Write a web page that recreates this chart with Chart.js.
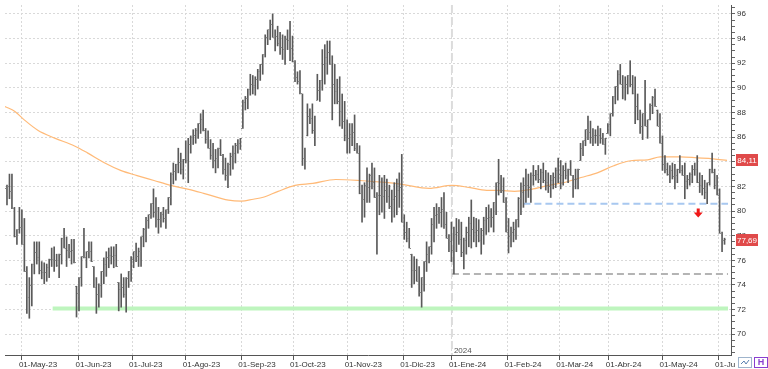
<!DOCTYPE html>
<html>
<head>
<meta charset="utf-8">
<title>Brent - daily bars</title>
<script src="https://cdn.jsdelivr.net/npm/chart.js@4.4.1/dist/chart.umd.min.js"></script>
<style>
    html, body { margin: 0; padding: 0; background: #fff; }
    #wrap { width: 768px; height: 369px; }
</style>
</head>
<body>
<div id="wrap"><canvas id="chart" width="768" height="369"></canvas></div>
<script>
// ===========================
// DATA (one entry per trading day, index 0 = 21-Apr-23)
// ===========================
const opens = [
    81.8, 82.0, 81.6, 80.2, 77.9, 78.5, 78.7, 77.3, 75.1, 73.0,
    74.0, 75.7, 76.6, 76.2, 75.2, 75.0, 75.0, 75.4, 76.1, 76.1,
    76.0, 75.6, 76.5, 77.8, 77.0, 76.8, 76.7, 76.8, 73.9, 73.3,
    74.6, 76.3, 76.2, 76.7, 76.7, 75.5, 73.8, 73.2, 74.0, 75.1,
    75.7, 76.2, 76.4, 76.3, 76.4, 74.2, 73.6, 73.8, 73.2, 74.5,
    75.1, 76.1, 76.7, 76.3, 76.7, 77.9, 78.5, 79.2, 79.7, 80.6,
    79.9, 79.3, 79.3, 79.7, 79.4, 80.1, 81.1, 83.0, 83.2, 83.8,
    83.9, 83.4, 84.2, 84.1, 85.4, 86.0, 86.1, 86.5, 87.1, 87.4,
    86.5, 85.8, 85.1, 84.5, 84.1, 84.3, 85.1, 84.5, 83.4, 82.9,
    83.8, 84.4, 84.7, 85.3, 85.5, 86.7, 88.8, 89.1, 89.9, 90.3,
    90.2, 90.7, 91.3, 91.9, 92.7, 94.1, 94.7, 95.1, 94.1, 94.2,
    93.6, 93.3, 93.1, 93.9, 93.8, 93.2, 92.1, 90.8, 90.5, 89.5,
    84.3, 86.1, 87.7, 87.5, 86.5, 89.0, 89.8, 90.6, 91.9, 92.5,
    92.9, 91.9, 90.3, 89.7, 88.9, 88.1, 87.3, 86.1, 85.9, 86.2,
    86.4, 85.1, 84.7, 81.4, 80.9, 82.1, 81.9, 82.9, 82.3, 81.1,
    81.3, 81.3, 81.2, 81.7, 81.2, 80.4, 80.9, 81.2, 81.7, 81.9,
    79.1, 78.3, 77.8, 76.5, 75.2, 75.2, 74.3, 73.4, 74.6, 75.9,
    76.5, 77.1, 78.9, 79.6, 79.7, 79.9, 80.1, 78.9, 77.8, 77.5,
    76.8, 78.1, 78.3, 77.7, 76.6, 77.6, 78.3, 79.0, 78.5, 78.3,
    78.4, 77.6, 78.4, 79.2, 79.4, 79.5, 79.5, 80.7, 82.3, 82.2,
    81.7, 80.7, 78.3, 77.9, 78.3, 78.5, 79.3, 81.0, 81.5, 82.1,
    82.1, 81.9, 82.9, 82.9, 83.0, 82.6, 83.1, 82.5, 82.3, 82.0,
    82.5, 82.7, 83.3, 83.0, 82.9, 83.3, 82.9, 83.4, 82.9, 82.6,
    82.6, 84.1, 85.1, 85.7, 86.6, 86.4, 86.0, 86.1, 86.1, 86.1,
    85.9, 85.4, 86.3, 87.0, 87.9, 89.3, 90.1, 91.1, 90.3, 90.0,
    90.3, 91.0, 90.3, 89.5, 88.5, 87.4, 86.9, 87.9, 86.9, 87.4,
    88.6, 89.2, 88.2, 86.9, 85.5, 83.8, 83.4, 83.0, 83.3, 82.8,
    82.9, 83.4, 83.3, 82.9, 82.4, 82.6, 83.0, 83.4, 83.4, 82.3,
    82.1, 81.8, 81.5, 82.3, 83.4, 83.1, 82.1, 81.3, 78.2, 77.6
];
const highs = [
    82.1, 83.0, 83.0, 80.3, 78.5, 80.3, 80.1, 79.4, 75.5, 74.6,
    75.7, 77.5, 77.5, 77.5, 75.9, 75.8, 75.7, 76.1, 77.0, 77.1,
    76.5, 76.5, 77.8, 78.6, 77.9, 77.3, 77.7, 77.7, 73.9, 74.6,
    76.3, 78.6, 76.7, 77.5, 77.5, 75.5, 74.6, 74.1, 75.1, 76.2,
    76.7, 77.0, 77.1, 77.1, 77.3, 74.2, 74.9, 74.6, 74.6, 75.1,
    76.3, 76.7, 77.4, 77.0, 77.9, 78.6, 79.5, 79.7, 80.6, 81.8,
    81.1, 80.3, 79.9, 80.3, 80.1, 81.1, 83.1, 83.9, 83.8, 85.1,
    84.7, 84.2, 85.7, 85.9, 86.1, 86.6, 86.7, 87.1, 87.9, 88.2,
    86.7, 86.5, 85.8, 85.5, 85.0, 85.1, 85.8, 84.6, 84.3, 83.9,
    84.7, 85.3, 85.5, 85.8, 85.9, 89.0, 89.3, 89.9, 91.1, 91.0,
    90.9, 91.5, 91.9, 92.7, 94.3, 94.7, 95.5, 96.0, 94.7, 95.0,
    94.5, 94.3, 94.2, 94.7, 95.4, 94.2, 92.2, 91.3, 91.4, 89.5,
    85.1, 88.7, 88.3, 88.7, 87.7, 91.1, 90.6, 93.1, 93.5, 93.8,
    93.8, 92.6, 91.9, 90.7, 90.9, 89.5, 88.9, 87.4, 87.1, 87.1,
    87.8, 85.5, 85.3, 82.1, 82.3, 83.5, 83.0, 83.9, 83.5, 81.5,
    82.9, 82.7, 82.9, 82.6, 82.1, 81.7, 82.3, 82.6, 83.1, 84.6,
    79.7, 79.1, 78.6, 76.5, 76.3, 76.1, 75.5, 74.6, 75.9, 77.5,
    77.1, 79.4, 80.3, 80.6, 80.3, 81.1, 81.5, 79.9, 78.1, 79.1,
    78.7, 79.4, 79.3, 79.1, 77.8, 78.7, 79.5, 80.9, 79.5, 79.4,
    79.3, 78.6, 79.5, 80.3, 80.5, 80.2, 80.7, 82.3, 84.2, 82.9,
    82.7, 81.1, 79.4, 78.7, 79.1, 79.3, 81.1, 82.3, 82.7, 83.4,
    83.0, 83.1, 83.7, 83.3, 83.7, 83.4, 83.9, 83.3, 83.1, 82.9,
    83.1, 83.5, 84.3, 84.1, 83.7, 83.9, 83.4, 84.1, 82.9, 83.4,
    83.4, 85.5, 85.7, 86.6, 87.7, 87.3, 86.7, 86.6, 86.9, 86.7,
    86.3, 85.9, 87.1, 87.9, 89.3, 90.1, 91.4, 91.9, 91.0, 90.9,
    91.0, 92.2, 91.0, 90.9, 89.5, 88.2, 87.9, 90.6, 87.4, 88.7,
    89.3, 89.9, 88.2, 87.9, 86.1, 84.5, 83.9, 83.7, 83.9, 83.8,
    83.4, 84.5, 83.7, 83.9, 82.9, 83.1, 83.7, 83.9, 84.5, 83.1,
    82.9, 82.5, 82.3, 83.4, 84.7, 83.4, 82.9, 81.8, 78.3, 77.8
];
const lows = [
    80.5, 81.0, 80.2, 77.9, 77.3, 78.2, 77.3, 75.1, 71.7, 71.3,
    72.3, 74.9, 75.7, 74.9, 74.5, 74.1, 74.3, 74.6, 75.5, 75.1,
    75.5, 74.6, 75.7, 77.0, 75.5, 76.2, 75.7, 75.8, 71.4, 71.9,
    73.9, 76.2, 75.4, 76.2, 75.9, 73.8, 71.7, 72.2, 73.0, 74.1,
    74.7, 75.4, 75.7, 75.4, 75.5, 71.9, 72.2, 73.0, 71.8, 73.8,
    74.3, 75.4, 75.9, 75.5, 75.5, 77.1, 77.5, 78.6, 79.4, 79.5,
    78.7, 78.2, 78.7, 79.1, 78.6, 79.8, 80.5, 82.2, 82.5, 83.1,
    83.0, 82.6, 83.9, 82.3, 84.7, 85.4, 85.5, 85.9, 86.3, 86.5,
    85.5, 85.1, 84.2, 83.5, 83.1, 83.5, 84.5, 83.0, 82.5, 81.9,
    82.9, 83.4, 83.9, 84.7, 85.0, 86.7, 88.2, 88.3, 89.4, 89.5,
    89.4, 89.9, 90.6, 91.1, 92.5, 93.5, 93.9, 94.1, 93.0, 93.4,
    92.7, 92.3, 91.9, 93.1, 92.2, 92.1, 90.5, 90.3, 89.5, 83.7,
    83.4, 86.1, 87.1, 86.3, 85.3, 89.0, 88.9, 89.8, 90.3, 91.1,
    91.9, 87.4, 88.7, 88.7, 86.9, 86.7, 85.7, 84.7, 84.7, 85.3,
    84.9, 84.7, 81.4, 79.1, 79.5, 80.7, 80.7, 81.8, 81.1, 76.5,
    79.7, 79.9, 79.4, 80.7, 80.2, 79.1, 79.5, 79.7, 80.3, 79.1,
    77.7, 77.5, 77.0, 73.8, 74.1, 74.3, 73.1, 72.2, 73.5, 75.1,
    75.8, 76.5, 77.5, 78.6, 79.0, 78.7, 78.6, 77.8, 76.7, 75.9,
    74.9, 76.7, 77.3, 76.3, 75.3, 76.5, 77.1, 77.0, 77.5, 77.1,
    77.5, 76.5, 77.3, 78.1, 78.3, 78.7, 78.3, 79.7, 81.3, 81.5,
    80.7, 78.3, 76.6, 77.1, 77.5, 77.7, 78.7, 79.7, 80.3, 80.7,
    81.1, 80.7, 82.1, 82.5, 82.3, 81.8, 82.3, 81.7, 81.5, 81.1,
    81.8, 81.9, 82.3, 81.8, 82.1, 82.6, 82.3, 82.9, 81.1, 81.8,
    81.8, 84.1, 84.5, 85.3, 85.8, 85.5, 85.3, 85.5, 85.3, 85.5,
    85.4, 84.6, 86.3, 86.1, 87.7, 88.7, 89.0, 90.3, 89.1, 89.0,
    89.5, 90.1, 89.5, 87.1, 87.4, 86.3, 85.8, 86.9, 85.9, 87.4,
    87.9, 88.5, 86.9, 85.5, 83.3, 83.1, 82.9, 82.3, 82.6, 81.8,
    82.3, 83.1, 82.9, 81.0, 81.8, 82.1, 82.3, 82.9, 82.3, 81.5,
    81.3, 81.0, 80.6, 82.1, 83.1, 81.8, 81.3, 78.2, 76.7, 77.3
];
const closes = [
    82.0, 81.6, 80.2, 77.9, 78.5, 78.7, 77.3, 75.1, 73.0, 74.0,
    75.7, 76.6, 76.2, 75.2, 75.0, 75.0, 75.4, 76.1, 76.1, 76.0,
    75.6, 76.5, 77.8, 77.0, 76.8, 76.7, 76.8, 75.8, 73.3, 74.6,
    76.3, 76.2, 76.7, 76.7, 75.9, 73.8, 73.2, 74.0, 75.1, 75.7,
    76.2, 76.4, 76.3, 76.4, 75.5, 73.6, 73.8, 73.2, 74.5, 75.1,
    76.1, 76.7, 76.3, 76.7, 77.9, 78.5, 79.2, 79.7, 80.6, 79.9,
    79.3, 79.3, 79.7, 79.4, 80.1, 81.1, 83.0, 83.2, 83.8, 83.9,
    83.4, 84.2, 84.1, 85.4, 86.0, 86.1, 86.5, 87.1, 87.4, 86.5,
    85.8, 85.1, 84.5, 84.1, 84.3, 85.1, 84.5, 83.4, 82.9, 83.8,
    84.4, 84.7, 85.3, 85.5, 85.9, 88.8, 89.1, 89.9, 90.3, 90.2,
    90.7, 91.3, 91.9, 92.7, 94.1, 94.7, 95.1, 94.1, 94.2, 93.6,
    93.3, 93.1, 93.9, 93.8, 93.2, 92.1, 90.8, 90.5, 89.5, 84.3,
    85.1, 87.7, 87.5, 86.5, 87.7, 89.8, 90.6, 91.9, 92.5, 92.9,
    91.9, 90.3, 89.7, 88.9, 88.1, 87.3, 86.1, 85.9, 86.2, 86.4,
    85.1, 84.7, 81.4, 80.9, 82.1, 81.9, 82.9, 82.3, 81.1, 81.3,
    81.3, 81.2, 81.7, 81.2, 80.4, 80.9, 81.2, 81.7, 81.9, 79.1,
    78.3, 77.8, 77.0, 75.2, 75.2, 74.3, 73.4, 74.6, 75.9, 76.5,
    77.1, 78.9, 79.6, 79.7, 79.9, 80.1, 78.9, 77.8, 77.5, 76.8,
    78.1, 78.3, 77.7, 76.6, 77.6, 78.3, 79.0, 78.5, 78.3, 78.4,
    77.6, 78.4, 79.2, 79.4, 79.5, 79.5, 80.7, 82.3, 82.2, 81.7,
    80.7, 78.3, 77.9, 78.3, 78.5, 79.3, 81.0, 81.5, 82.1, 82.1,
    81.9, 82.9, 82.9, 83.0, 82.6, 83.1, 82.5, 82.3, 82.0, 82.5,
    82.7, 83.3, 83.0, 82.9, 83.3, 82.9, 83.4, 82.9, 82.6, 82.6,
    83.4, 85.1, 85.7, 86.6, 86.4, 86.0, 86.1, 86.1, 86.1, 85.9,
    85.4, 85.9, 87.0, 87.9, 89.3, 90.1, 91.1, 90.3, 90.0, 90.3,
    91.0, 90.3, 89.5, 88.5, 87.4, 86.9, 87.9, 86.9, 87.4, 88.6,
    89.2, 88.5, 86.9, 85.5, 83.8, 83.4, 83.0, 83.3, 82.8, 82.9,
    83.4, 83.3, 82.9, 82.4, 82.6, 83.0, 83.4, 83.4, 82.3, 82.1,
    81.8, 81.5, 82.3, 83.4, 83.1, 82.1, 81.3, 78.2, 77.6, 77.69
];

// Moving average (orange), read at a few bar positions
const maIdx = [-0.8, 3.2, 7.2, 12.4, 19.2, 27.2, 32.4, 39.2, 46, 52.4, 59.2, 66, 73.2, 79.2,
    89.2, 94.4, 99.2, 103.2, 109.2, 116, 123.2, 132.4, 142, 152.4, 159.2, 170, 179.2, 186,
    193.2, 198, 204.4, 211.2, 218, 224.4, 231.2, 238, 244.4, 251.2, 258, 263.2, 271.2, 278,
    284.4, 290];
const maVal = [88.48, 88.08, 87.36, 86.56, 85.92, 85.28, 84.72, 83.92, 83.28, 82.88, 82.48, 82.08, 81.76, 81.44,
    80.88, 80.8, 80.96, 81.12, 81.6, 82.08, 82.24, 82.56, 82.48, 82.32, 82.16, 81.84, 82.08, 81.92,
    81.68, 81.68, 81.6, 81.76, 82.08, 82.32, 82.72, 83.12, 83.68, 84.08, 84.16, 84.4, 84.4, 84.32,
    84.24, 84.11];

// x axis: first trading day of each month (bar index) and its label
const monthTicks = [6, 28.8, 50.4, 72, 94.4, 115.2, 137.2, 159.6, 179.2, 201.6, 222.4, 242.4, 264, 286.4];
const monthLabels = ['01-May-23', '01-Jun-23', '01-Jul-23', '01-Ago-23', '01-Sep-23', '01-Oct-23', '01-Nov-23',
    '01-Dic-23', '01-Ene-24', '01-Feb-24', '01-Mar-24', '01-Abr-24', '01-May-24', '01-Jun-24'];

// Horizontal levels: [start index, price]
const greenLevel = [18.4, 72.1];
const greyLevel = [179.2, 74.9];
const blueLevel = [208, 80.6];
const levelEnd = 290.4;

// Markers
const yearIdx = 179.2;
const yearLabel = '2024';
const arrowIdx = 278.4;
const arrowVal = 79.8;
const maTag = '84,11';
const lastTag = '77,69';

// Axis ranges
const xMin = -0.8, xMax = 291.6;
const yMin = 68.32, yMax = 96.72;

// ===========================
// STYLE
// ===========================
const barColor = '#5a5a5a';
const tickColor = '#8a8a8a';
const axisFont = { family: 'Liberation Sans', size: 8 };

// Small open/close tick images used as point styles
function tickMark(side) {
    const c = document.createElement('canvas');
    c.width = 3;
    c.height = 1;
    const g = c.getContext('2d');
    g.fillStyle = tickColor;
    g.fillRect(side === 'left' ? 0 : 2, 0, 1, 1);
    return c;
}

function levelLine(level) {
    return [{ x: level[0], y: level[1] }, { x: levelEnd, y: level[1] }];
}

function priceTag(ctx, chart, value, text) {
    const y = chart.scales.y.getPixelForValue(value);
    const x = chart.chartArea.right + 5;
    ctx.fillStyle = '#e04a4a';
    ctx.fillRect(x, Math.round(y) - 6, 22, 12);
    ctx.fillStyle = '#ffffff';
    ctx.font = '8px "Liberation Sans"';
    ctx.textAlign = 'center';
    ctx.textBaseline = 'middle';
    ctx.fillText(text, x + 11, Math.round(y) + 0.5);
}

// Extra drawing: background, year separator, arrow, price tags, corner icons
const overlay = {
    id: 'overlay',
    beforeDraw(chart) {
        const { ctx, width, height } = chart;
        ctx.save();
        ctx.fillStyle = '#ffffff';
        ctx.fillRect(0, 0, width, height);
        ctx.restore();
    },
    beforeDatasetsDraw(chart) {
        const { ctx, chartArea, scales } = chart;
        const px = scales.x.getPixelForValue(yearIdx);
        ctx.save();
        ctx.strokeStyle = '#dcdcdc';
        ctx.lineWidth = 2;
        ctx.setLineDash([8, 4]);
        ctx.beginPath();
        ctx.moveTo(px, chartArea.top);
        ctx.lineTo(px, chartArea.bottom);
        ctx.stroke();
        ctx.setLineDash([]);
        ctx.fillStyle = '#555';
        ctx.font = '8px "Liberation Sans"';
        ctx.fillText(yearLabel, px + 2, chartArea.bottom - 2);
        ctx.restore();
    },
    afterDraw(chart) {
        const { ctx, scales } = chart;
        const ax = scales.x.getPixelForValue(arrowIdx);
        const ay = scales.y.getPixelForValue(arrowVal);
        ctx.save();
        ctx.fillStyle = '#f01818';
        ctx.beginPath();
        ctx.moveTo(ax - 1.5, ay - 5);
        ctx.lineTo(ax + 1.5, ay - 5);
        ctx.lineTo(ax + 1.5, ay - 1);
        ctx.lineTo(ax + 4.5, ay - 1);
        ctx.lineTo(ax, ay + 4);
        ctx.lineTo(ax - 4.5, ay - 1);
        ctx.lineTo(ax - 1.5, ay - 1);
        ctx.closePath();
        ctx.fill();

        priceTag(ctx, chart, maVal[maVal.length - 1], maTag);
        priceTag(ctx, chart, closes[closes.length - 1], lastTag);

        // corner buttons
        ctx.fillStyle = '#ffffff';
        ctx.fillRect(735, 356, 33, 13);
        ctx.strokeStyle = '#9fb4cc';
        ctx.lineWidth = 1;
        ctx.strokeRect(738.5, 357.5, 13, 10);
        ctx.strokeStyle = '#5a7fb0';
        ctx.beginPath();
        ctx.moveTo(741, 364); ctx.lineTo(744, 361); ctx.lineTo(746, 364); ctx.lineTo(749, 360);
        ctx.stroke();
        ctx.strokeStyle = '#8a3fd0';
        ctx.strokeRect(754.5, 357.5, 13, 10);
        ctx.fillStyle = '#8a3fd0';
        ctx.font = 'bold 9px "Liberation Sans"';
        ctx.textAlign = 'center';
        ctx.textBaseline = 'middle';
        ctx.fillText('H', 761, 363);
        ctx.restore();
    }
};

// ===========================
// CHART
// ===========================
const barData = highs.map((h, i) => ({ x: i, y: [lows[i], h] }));
const openData = opens.map((v, i) => ({ x: i, y: v }));
const closeData = closes.map((v, i) => ({ x: i, y: v }));
const maData = maIdx.map((v, i) => ({ x: v, y: maVal[i] }));

new Chart(document.getElementById('chart'), {
    type: 'bar',
    data: {
        datasets: [
            {
                type: 'bar',
                data: barData,
                backgroundColor: barColor,
                borderWidth: 0,
                barThickness: 1,
                grouped: false,
                order: 1
            },
            {
                type: 'scatter',
                data: openData,
                pointStyle: tickMark('left'),
                pointRadius: 1,
                order: 0
            },
            {
                type: 'scatter',
                data: closeData,
                pointStyle: tickMark('right'),
                pointRadius: 1,
                order: 0
            },
            {
                type: 'line',
                data: maData,
                borderColor: '#ffba78',
                borderWidth: 1.2,
                pointRadius: 0,
                cubicInterpolationMode: 'monotone',
                order: 2
            },
            {
                type: 'line',
                data: levelLine(greenLevel),
                borderColor: 'rgb(190, 245, 190)',
                borderWidth: 4,
                pointRadius: 0,
                order: 3
            },
            {
                type: 'line',
                data: levelLine(greyLevel),
                borderColor: '#b4b4b4',
                borderWidth: 2,
                borderDash: [7, 4],
                pointRadius: 0,
                order: 3
            },
            {
                type: 'line',
                data: levelLine(blueLevel),
                borderColor: '#a8c8f0',
                borderWidth: 2,
                borderDash: [7, 4],
                pointRadius: 0,
                order: 3
            }
        ]
    },
    options: {
        responsive: false,
        animation: false,
        devicePixelRatio: 1,
        layout: { padding: 0 },
        plugins: {
            legend: { display: false },
            tooltip: { enabled: false }
        },
        scales: {
            x: {
                type: 'linear',
                min: xMin,
                max: xMax,
                offset: false,
                afterBuildTicks: function(scale) {
                    scale.ticks = monthTicks.map(v => ({ value: v }));
                },
                afterFit: function(scale) {
                    scale.height = 14;
                    scale.paddingLeft = 0;
                    scale.paddingRight = 0;
                },
                ticks: {
                    autoSkip: false,
                    maxRotation: 0,
                    align: 'start',
                    labelOffset: -3,
                    padding: 0,
                    color: '#333',
                    font: axisFont,
                    callback: function(value, index) {
                        return monthLabels[index];
                    }
                },
                grid: {
                    offset: false,
                    color: '#d9d9d9',
                    tickColor: '#555',
                    tickLength: 5
                },
                border: { display: true, color: '#555', dash: [2, 2] }
            },
            y: {
                type: 'linear',
                position: 'right',
                min: yMin,
                max: yMax,
                afterFit: function(scale) {
                    scale.width = 37;
                    scale.paddingTop = 0;
                    scale.paddingBottom = 0;
                },
                ticks: {
                    stepSize: 0.5,
                    includeBounds: false,
                    autoSkip: false,
                    padding: 2,
                    color: '#333',
                    font: axisFont,
                    callback: function(value) {
                        return Math.abs(value % 2) < 1e-6 ? String(value) : '';
                    }
                },
                grid: {
                    color: function(c) {
                        return c.tick && Math.abs(c.tick.value % 2) < 1e-6 ? '#d9d9d9' : 'rgba(0,0,0,0)';
                    },
                    tickColor: '#666',
                    tickLength: 4
                },
                border: { display: true, color: '#555', dash: [2, 2] }
            }
        }
    },
    plugins: [overlay]
});
</script>
</body>
</html>
